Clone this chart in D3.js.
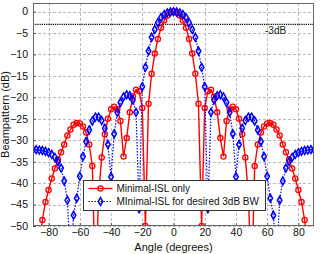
<!DOCTYPE html>
<html>
<head>
<meta charset="utf-8">
<script src="https://cdn.jsdelivr.net/npm/d3@7"></script>
<style>
  body { margin: 0; background: #fff; }
  text { font-family: "Liberation Sans", Arial, sans-serif; }
</style>
</head>
<body>
<div id="chart"></div>
<script>
// angles in degrees (2 degree steps)
const angles = d3.range(-90, 91, 2);

// Minimal-ISL only
const redDb = [
  -70, -62, -55, -48.6, -44.4, -41.6, -38.9, -36.6, -34.5, -32.8,
  -31.0, -28.9, -27.5, -26.4, -26.0, -26.1, -26.8, -28.2, -31, -36,
  -65, -43, -34.0, -28.6, -25.0, -22.8, -22.2, -22.8, -25.5, -33.8,
  -29.5, -23.5, -19.8, -18.2, -18.6, -22.5, -50, -21.5, -14.5, -9.8,
  -6.4, -3.8, -2.1, -0.9, -0.2, 0,
  -0.2, -0.9, -2.1, -3.8, -6.4, -9.8, -14.5, -21.5, -50, -22.5,
  -18.6, -18.2, -19.8, -23.5, -29.5, -33.8, -25.5, -22.8, -22.2, -22.8,
  -25.0, -28.6, -34.0, -43, -65, -36, -31, -28.2, -26.8, -26.1,
  -26.0, -26.4, -27.5, -28.9, -31.0, -32.8, -34.5, -36.6, -38.9, -41.6,
  -44.4, -48.6, -55, -62, -70
];

// MInimal-ISL for desired 3dB BW
const blueDb = [
  -32.2, -32.2, -32.3, -32.4, -32.6, -32.9, -33.3, -34.0, -35.0, -36.5,
  -39.5, -44, -58, -47.5, -43.5, -38.4, -33.8, -30.3, -27.6, -25.5,
  -24.6, -24.6, -25.4, -27.2, -31, -38.5, -28.5, -23.5, -21.2, -19.9,
  -19.4, -19.6, -20.6, -23.5, -46, -17.5, -13, -9.2, -6.0, -4.2,
  -2.6, -1.4, -0.7, -0.3, -0.1, 0,
  -0.1, -0.3, -0.7, -1.4, -2.6, -4.2, -6.0, -9.2, -13, -17.5,
  -46, -23.5, -20.6, -19.6, -19.4, -19.9, -21.2, -23.5, -28.5, -38.5,
  -31, -27.2, -25.4, -24.6, -24.6, -25.5, -27.6, -30.3, -33.8, -38.4,
  -43.5, -47.5, -58, -44, -39.5, -36.5, -35.0, -34.0, -33.3, -32.9,
  -32.6, -32.4, -32.3, -32.2, -32.2
];

const xTicks = [-80, -60, -40, -20, 0, 20, 40, 60, 80];
const yTicks = [0, -5, -10, -15, -20, -25, -30, -35, -40, -45, -50];
const refLevel = -3;

const W = 320, H = 254;
const m = { left: 33, right: 6, top: 3, bottom: 28 };

const svg = d3.select("#chart").append("svg")
  .attr("width", W).attr("height", H);

const x = d3.scaleLinear().domain([-90, 90]).range([m.left, W - m.right]);
const y = d3.scaleLinear().domain([-50, 2]).range([H - m.bottom, m.top]);

svg.append("defs").append("clipPath").attr("id", "clip")
  .append("rect")
  .attr("x", x(-90)).attr("y", y(2))
  .attr("width", x(90) - x(-90)).attr("height", y(-50) - y(2));

// grid
svg.append("g").selectAll("line").data(xTicks).join("line")
  .attr("x1", d => Math.round(x(d)) + 0.5).attr("x2", d => Math.round(x(d)) + 0.5)
  .attr("y1", y(2)).attr("y2", y(-50))
  .attr("stroke", "#bbb").attr("stroke-dasharray", "3,2");
svg.append("g").selectAll("line").data(yTicks).join("line")
  .attr("y1", d => Math.round(y(d)) + 0.5).attr("y2", d => Math.round(y(d)) + 0.5)
  .attr("x1", x(-90)).attr("x2", x(90))
  .attr("stroke", "#bbb").attr("stroke-dasharray", "3,2");

// axes with tick labels
const xAxis = svg.append("g")
  .attr("transform", `translate(0,${y(-50)})`)
  .call(d3.axisBottom(x).tickValues(xTicks).tickSize(-3).tickPadding(3));
const yAxis = svg.append("g")
  .attr("transform", `translate(${x(-90)},0)`)
  .call(d3.axisLeft(y).tickValues(yTicks).tickSize(-3).tickPadding(5));
[xAxis, yAxis].forEach(a => {
  a.select(".domain").remove();
  a.selectAll("line").attr("stroke", "#555");
  a.selectAll("text").attr("font-size", 10.5).attr("fill", "#111")
    .style("font-family", "'Liberation Sans', Arial, sans-serif");
});

// -3dB reference line
svg.append("line")
  .attr("x1", x(-90)).attr("x2", x(90))
  .attr("y1", y(refLevel)).attr("y2", y(refLevel))
  .attr("stroke", "#000").attr("stroke-width", 1.3).attr("stroke-dasharray", "1.2,1");
svg.append("text").attr("x", 265).attr("y", 34)
  .attr("font-size", 10).attr("fill", "#222").text("-3dB");

const plot = svg.append("g").attr("clip-path", "url(#clip)");
const line = d3.line().x(d => x(d[0])).y(d => y(d[1]));

const redPts = angles.map((a, i) => [a, redDb[i]]);
const bluePts = angles.map((a, i) => [a, blueDb[i]]);
const diamond = d3.symbol().type(d3.symbolDiamond).size(18);

plot.append("path").datum(redPts)
  .attr("d", line).attr("fill", "none")
  .attr("stroke", "#ff0000").attr("stroke-width", 1.4);
plot.selectAll(".rm").data(redPts.filter(d => d[1] >= -50)).join("circle")
  .attr("class", "rm")
  .attr("cx", d => x(d[0])).attr("cy", d => y(d[1])).attr("r", 2.6)
  .attr("fill", "none").attr("stroke", "#ff0000").attr("stroke-width", 1.3);

plot.append("path").datum(bluePts)
  .attr("d", line).attr("fill", "none")
  .attr("stroke", "#0000ff").attr("stroke-width", 1.2).attr("stroke-dasharray", "1.5,1.5");
plot.selectAll(".bm").data(bluePts.filter(d => d[1] >= -50)).join("path")
  .attr("class", "bm")
  .attr("transform", d => `translate(${x(d[0])},${y(d[1])})`)
  .attr("d", diamond).attr("fill", "none")
  .attr("stroke", "#0000ff").attr("stroke-width", 1.5);

// frame
svg.append("rect")
  .attr("x", x(-90) + 0.5).attr("y", y(2) + 0.5)
  .attr("width", x(90) - x(-90) - 1).attr("height", y(-50) - y(2) - 1)
  .attr("fill", "none").attr("stroke", "#666");

// axis titles
svg.append("text").attr("x", x(0)).attr("y", 251)
  .attr("text-anchor", "middle").attr("font-size", 11).attr("fill", "#111")
  .text("Angle (degrees)");
svg.append("text")
  .attr("transform", `translate(9,${(y(2) + y(-50)) / 2}) rotate(-90)`)
  .attr("text-anchor", "middle").attr("font-size", 11).attr("fill", "#111")
  .text("Beampattern (dB)");

// legend
const lg = svg.append("g").attr("transform", "translate(83.5,180.5)");
lg.append("rect").attr("width", 182).attr("height", 30)
  .attr("fill", "#fff").attr("stroke", "#333");
const entries = [
  { label: "Minimal-ISL only", color: "#ff0000", dash: null, mark: "circle" },
  { label: "MInimal-ISL for desired 3dB BW", color: "#0000ff", dash: "1.5,1.5", mark: "diamond" }
];
entries.forEach((e, i) => {
  const cy = 8 + i * 13;
  lg.append("line").attr("x1", 5).attr("x2", 29).attr("y1", cy).attr("y2", cy)
    .attr("stroke", e.color).attr("stroke-width", e.dash ? 1.2 : 1.4)
    .attr("stroke-dasharray", e.dash);
  if (e.mark === "circle") {
    lg.append("circle").attr("cx", 17).attr("cy", cy).attr("r", 2.6)
      .attr("fill", "none").attr("stroke", e.color).attr("stroke-width", 1.3);
  } else {
    lg.append("path").attr("transform", `translate(17,${cy})`).attr("d", diamond)
      .attr("fill", "none").attr("stroke", e.color).attr("stroke-width", 1.5);
  }
  lg.append("text").attr("x", 33).attr("y", cy + 3.5)
    .attr("font-size", 10).attr("fill", "#111").text(e.label);
});
</script>
</body>
</html>
